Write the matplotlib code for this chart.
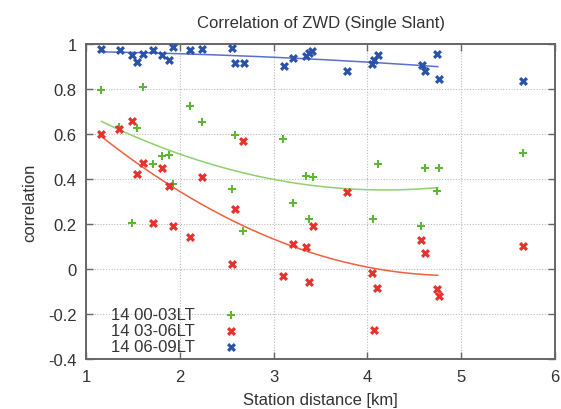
import matplotlib
matplotlib.use("Agg")
import matplotlib.pyplot as plt
import numpy as np

# --- data ---
green_x = [1.152, 1.606, 2.105, 2.236, 1.350, 1.542, 2.585, 3.100, 1.707, 1.806,
           1.884, 1.926, 1.482, 2.550, 2.673, 3.207, 3.343, 3.420, 4.114, 4.616,
           4.764, 5.655, 4.744, 3.375, 4.061, 4.567]
green_y = [0.796, 0.808, 0.727, 0.654, 0.632, 0.629, 0.596, 0.577, 0.466, 0.503,
           0.507, 0.377, 0.205, 0.356, 0.167, 0.295, 0.414, 0.407, 0.469, 0.447,
           0.451, 0.518, 0.349, 0.224, 0.222, 0.192]

red_x = [1.152, 1.350, 1.486, 1.606, 1.542, 1.806, 1.884, 2.229, 2.585, 1.713,
         1.920, 2.105, 2.550, 2.673, 3.777, 3.207, 3.339, 3.414, 3.100, 3.375,
         4.047, 4.104, 4.068, 4.570, 4.616, 4.744, 4.762, 5.655]
red_y = [0.602, 0.623, 0.657, 0.473, 0.424, 0.450, 0.367, 0.409, 0.266, 0.204,
         0.192, 0.143, 0.021, 0.570, 0.341, 0.110, 0.096, 0.193, -0.033, -0.057,
         -0.018, -0.086, -0.270, 0.128, 0.073, -0.087, -0.122, 0.101]

blue_x = [1.152, 1.358, 1.489, 1.542, 1.606, 1.713, 1.803, 1.880, 1.926, 2.105,
          2.236, 2.550, 2.585, 2.681, 3.105, 3.207, 3.346, 3.378, 3.410, 3.777,
          4.044, 4.068, 4.114, 4.577, 4.613, 4.744, 4.765, 5.655]
blue_y = [0.976, 0.972, 0.953, 0.919, 0.955, 0.972, 0.953, 0.931, 0.988, 0.974,
          0.977, 0.981, 0.916, 0.916, 0.904, 0.936, 0.949, 0.962, 0.971, 0.882,
          0.910, 0.930, 0.952, 0.909, 0.881, 0.955, 0.845, 0.835]

labels = ["14 00-03LT", "14 03-06LT", "14 06-09LT"]

# quadratic fit curves (c0, c1, c2)
green_fit = [0.935, -0.2788, 0.0333]
red_fit = [1.028, -0.4289, 0.0435]
blue_fit = [0.9703, -0.0006, -0.0030]
fit_range = [1.16, 4.75]

plt.rcParams["font.family"] = ["Liberation Sans", "DejaVu Sans"]
txt = "#333333"

fig = plt.figure(figsize=(5.61, 4.10), dpi=100)
ax = fig.add_axes([0.154, 0.122, 0.835, 0.768])

ax.scatter(green_x, green_y, marker="P", s=30, color="#5cb832", linewidths=0,
           label=labels[0], zorder=3)
ax.scatter(red_x, red_y, marker="X", s=42, color="#e8312c", linewidths=0,
           label=labels[1], zorder=3)
ax.scatter(blue_x, blue_y, marker="X", s=42, color="#2a52a8", linewidths=0,
           label=labels[2], zorder=3)

xs = np.linspace(fit_range[0], fit_range[1], 200)
for coef, col in [(green_fit, "#8fd06a"), (red_fit, "#f0603c"), (blue_fit, "#5a6fd0")]:
    ax.plot(xs, coef[0] + coef[1] * xs + coef[2] * xs ** 2, color=col, lw=1.1, zorder=2)

ax.set_xlim(1, 6)
ax.set_ylim(-0.4, 1)
ax.set_xticks([1, 2, 3, 4, 5, 6])
ax.set_yticks([-0.4, -0.2, 0, 0.2, 0.4, 0.6, 0.8, 1])
ax.set_yticklabels(["-0.4", "-0.2", "0", "0.2", "0.4", "0.6", "0.8", "1"])
ax.grid(True, color="#bbbbbb", linestyle=(0, (1, 1.5)), linewidth=0.8)
ax.tick_params(direction="in", top=True, right=True, length=5, width=1,
               color="#666666", labelsize=12, labelcolor=txt, pad=7)
for s in ax.spines.values():
    s.set_color("#666666")
    s.set_linewidth(1.4)

ax.set_title("Correlation of ZWD (Single Slant)", fontsize=12, color=txt, pad=12)
ax.set_xlabel("Station distance [km]", fontsize=12, color=txt, labelpad=6)
ax.set_ylabel("correlation", fontsize=12, color=txt, labelpad=8)

ax.legend(loc="lower left", bbox_to_anchor=(0.02, -0.032), frameon=False,
          markerfirst=False, fontsize=12, labelspacing=0.05, handletextpad=1.2,
          labelcolor=txt, scatterpoints=1)

fig.savefig("out.png", dpi=100)
